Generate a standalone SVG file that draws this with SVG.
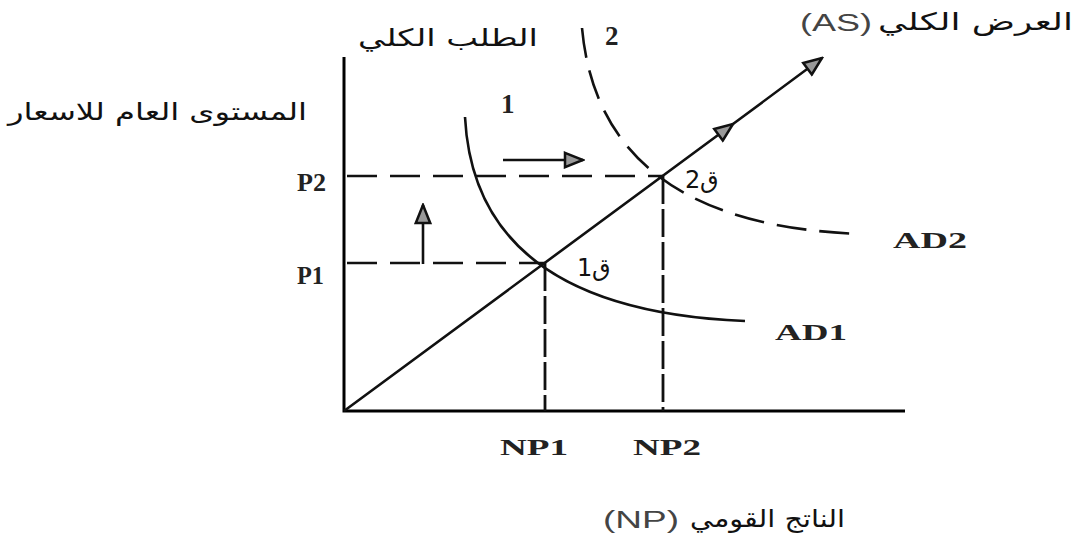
<svg xmlns="http://www.w3.org/2000/svg" width="1076" height="551" viewBox="0 0 1076 551">
<style>
.ax{stroke:#000;stroke-width:3;fill:none}
.ln{stroke:#111;stroke-width:2.6;fill:none}
.dh{stroke:#111;stroke-width:2.6;fill:none;stroke-dasharray:30 13}
.dv{stroke:#111;stroke-width:2.8;fill:none;stroke-dasharray:28 5}
.lat{font-family:"Liberation Serif",serif;font-weight:bold;font-size:24px;fill:#222}
.pl{font-family:"Liberation Serif",serif;font-weight:bold;font-size:25px;fill:#222}
.ar{font-family:"DejaVu Sans","Noto Sans",sans-serif;font-size:24px;fill:#111}
.pa{font-family:"Liberation Sans",sans-serif;font-size:23px;fill:#444}
.num{font-family:"Liberation Serif",serif;font-weight:bold;font-size:27px;fill:#222}
</style>
<defs>
<marker id="tri2" viewBox="0 0 12 10" refX="11" refY="5" markerWidth="22" markerHeight="18" markerUnits="userSpaceOnUse" orient="auto">
<path d="M1,1 L11,5 L1,9 z" fill="#999" stroke="#111" stroke-width="1.4"/>
</marker>
</defs>
<g id="axes">
<path class="ax" d="M344,57 L344,411 L905,411"/>
</g>
<g id="connectors">
<path class="dh" d="M347,176 L663,176"/>
<path class="dh" d="M347,263 L545,263"/>
<path class="dv" d="M545,263 L545,411"/>
<path class="dv" d="M663,176 L663,411"/>
<path class="ln" d="M344,411 L733,124 L822,58" marker-mid="url(#tri2)" marker-end="url(#tri2)"/>
<path class="ln" d="M465,117 Q475,310 745,321"/>
<path class="dh" d="M582,28 Q600,225 862,234"/>
<path class="ln" d="M503,160 L583,160" marker-end="url(#tri2)"/>
<path class="ln" d="M423,264 L423,205" marker-end="url(#tri2)"/>
</g>
<g id="labels">
<text class="ar" x="358" y="46" textLength="180" lengthAdjust="spacingAndGlyphs">الطلب الكلي</text>
<text class="pa" x="800" y="31" textLength="72" lengthAdjust="spacingAndGlyphs">(AS)</text>
<text class="ar" x="878" y="30" textLength="195" lengthAdjust="spacingAndGlyphs">العرض الكلي</text>
<text class="ar" x="8" y="120" textLength="299" lengthAdjust="spacingAndGlyphs">المستوى العام للاسعار</text>
<text class="pa" x="603" y="528" textLength="76" lengthAdjust="spacingAndGlyphs">(NP)</text>
<text class="ar" x="690" y="527" textLength="155" lengthAdjust="spacingAndGlyphs">الناتج القومي</text>
<text class="num" x="501" y="113">1</text>
<text class="num" x="605" y="45">2</text>
<text class="ar" x="577" y="276">1</text><text class="ar" x="592" y="276">ق</text>
<text class="ar" x="685" y="188">2</text><text class="ar" x="700" y="188">ق</text>
<text class="pl" x="297" y="191" textLength="29" lengthAdjust="spacingAndGlyphs">P2</text>
<text class="pl" x="297" y="284" textLength="27" lengthAdjust="spacingAndGlyphs">P1</text>
<text class="lat" x="500" y="455" textLength="68" lengthAdjust="spacingAndGlyphs">NP1</text>
<text class="lat" x="633" y="455" textLength="68" lengthAdjust="spacingAndGlyphs">NP2</text>
<text class="lat" x="893" y="248" textLength="74" lengthAdjust="spacingAndGlyphs">AD2</text>
<text class="lat" x="775" y="340" textLength="72" lengthAdjust="spacingAndGlyphs">AD1</text>
</g>
</svg>
